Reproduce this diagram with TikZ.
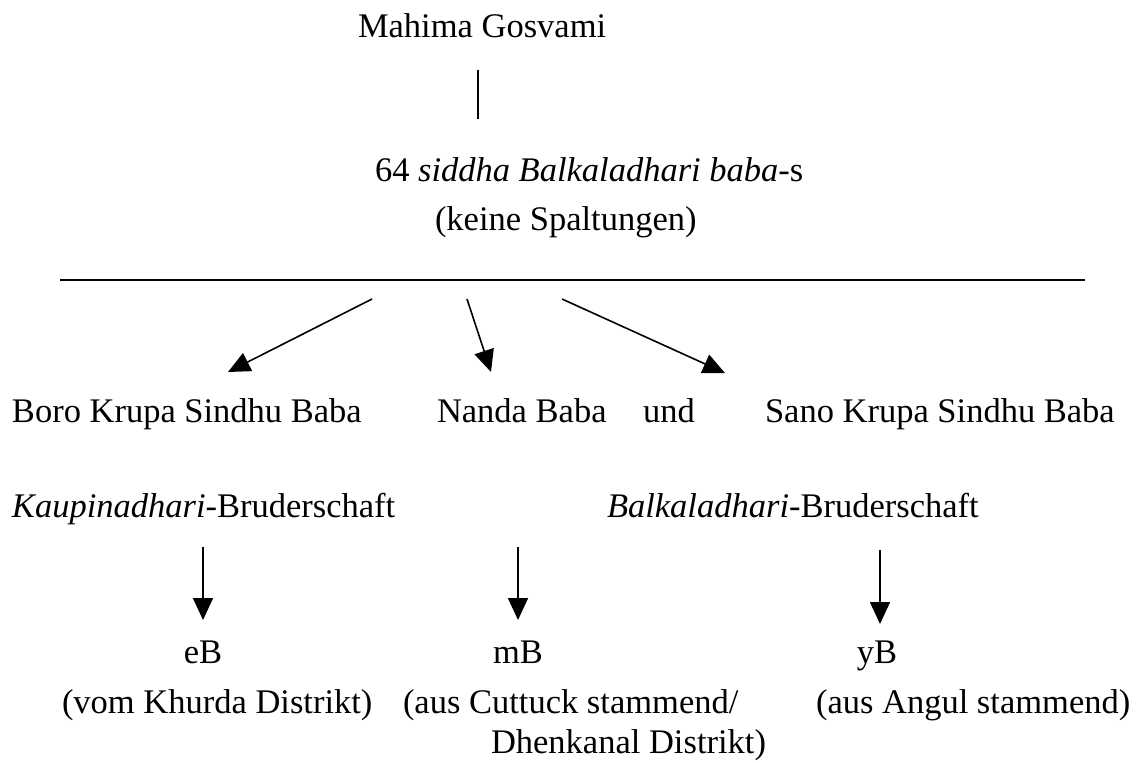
\documentclass[tikz,border=0pt]{standalone}
\usepackage{fontspec}
\setmainfont{Liberation Serif}
\usetikzlibrary{arrows.meta}
\begin{document}
\begin{tikzpicture}[x=1pt,y=-1pt,
  lbl/.style={anchor=base west,inner sep=0pt,outer sep=0pt,font=\fontsize{34.5}{40}\selectfont},
  lblc/.style={anchor=base,inner sep=0pt,outer sep=0pt,font=\fontsize{34.5}{40}\selectfont},
  rule/.style={line width=1.6pt},
  arr/.style={line width=1.6pt,-{Triangle[length=22pt,width=20pt]}}]
\useasboundingbox (0,0) rectangle (1147,762);
% texts
\node[lbl] (mahima) at (358,38) {Mahima Gosvami};
\node[lbl] (siddha) at (375,182) {64 \textit{siddha Balkaladhari baba}-s};
\node[lbl] (keine) at (435,230) {(keine Spaltungen)};
\node[lbl] (boro) at (12,422) {Boro Krupa Sindhu Baba};
\node[lbl] (nanda) at (437,422) {Nanda Baba};
\node[lbl] (und) at (643,422) {und};
\node[lbl] (sano) at (765,422) {Sano Krupa Sindhu Baba};
\node[lbl] (kaup) at (12,517) {\textit{Kaupinadhari}-Bruderschaft};
\node[lbl] (balk) at (607,517) {\textit{Balkaladhari}-Bruderschaft};
\node[lblc] (eb) at (203,663) {eB};
\node[lblc] (mb) at (518,663) {mB};
\node[lblc] (yb) at (877,663) {yB};
\node[lbl] (khurda) at (62,713) {(vom Khurda Distrikt)};
\node[lbl] (cuttuck) at (403,713) {(aus Cuttuck stammend/};
\node[lbl] (dhenk) at (491,753) {Dhenkanal Distrikt)};
\node[lbl] (angul) at (816,713) {(aus Angul stammend)};
% connector end points
\coordinate (v1) at (478,70);
\coordinate (v2) at (478,119);
\coordinate (h1) at (60,280);
\coordinate (h2) at (1085,280);
\coordinate (a1s) at (372,299);
\coordinate (a1e) at (228,372);
\coordinate (a2s) at (467,299);
\coordinate (a2e) at (491,372);
\coordinate (a3s) at (562,299);
\coordinate (a3e) at (725,373);
\coordinate (d1s) at (203,547);
\coordinate (d1e) at (203,620);
\coordinate (d2s) at (518,547);
\coordinate (d2e) at (518,620);
\coordinate (d3s) at (880,550);
\coordinate (d3e) at (880,624);
% connectors
\draw[line width=1.4pt] (v1) -- (v2);
\draw[rule] (h1) -- (h2);
\draw[arr] (a1s) -- (a1e);
\draw[arr] (a2s) -- (a2e);
\draw[arr] (a3s) -- (a3e);
\draw[arr] (d1s) -- (d1e);
\draw[arr] (d2s) -- (d2e);
\draw[arr] (d3s) -- (d3e);
\end{tikzpicture}
\end{document}
